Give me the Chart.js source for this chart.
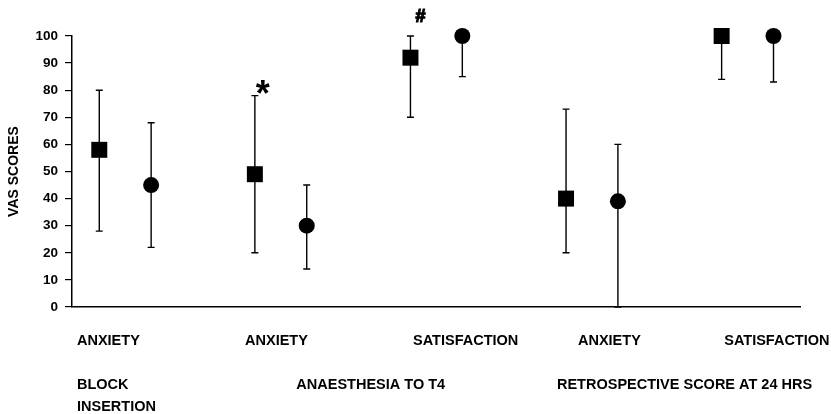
<!DOCTYPE html>
<html>
<head>
<meta charset="utf-8">
<script src="https://cdn.jsdelivr.net/npm/chart.js@4/dist/chart.umd.min.js"></script>
<style>
  html, body { margin: 0; padding: 0; background: #fff; }
</style>
</head>
<body>
<canvas id="chart" width="831" height="414"></canvas>
<script>
// Measures shown under each pair of markers, and the study phase they belong to
const measures = ['ANXIETY', 'ANXIETY', 'SATISFACTION', 'ANXIETY', 'SATISFACTION'];
const measureTickAt = [-0.31, 0.77, 1.85, 2.91, 3.85];
const phases = [['BLOCK', 'INSERTION'], ['ANAESTHESIA TO T4'], ['RETROSPECTIVE SCORE AT 24 HRS']];
const phaseTickAt = [-0.31, 1.10, 2.775];
const yTicks = [0, 10, 20, 30, 40, 50, 60, 70, 80, 90, 100];

// Group drawn with squares
const squareMean = [58, 49, 92, 40, 100];
const squareLow  = [28, 20, 70, 20, 84];
const squareHigh = [80, 78, 100, 73, 100];

// Group drawn with circles
const circleMean = [45, 30, 100, 39, 100];
const circleLow  = [22, 14, 85, 0, 83];
const circleHigh = [68, 45, 100, 60, 100];

// Significance symbols placed above a bar's upper end
const significance = [
  { series: 0, index: 1, text: '*' },
  { series: 0, index: 2, text: '#' }
];

const FONT = "'Liberation Sans', Arial, Helvetica, sans-serif";
const pairOffset = 1 / 6;

const points = (means, shift) => means.map((v, i) => ({ x: i + shift, y: v }));

// Vertical error bars with short caps, drawn beneath the markers
const errorBars = {
  id: 'errorBars',
  beforeDatasetsDraw(chart) {
    const { ctx, scales: { x, y } } = chart;
    ctx.save();
    ctx.strokeStyle = '#000';
    ctx.lineWidth = 1.4;
    chart.data.datasets.forEach(ds => {
      ds.data.forEach((p, i) => {
        const px = x.getPixelForValue(p.x);
        const yLow = y.getPixelForValue(ds.low[i]);
        const yHigh = y.getPixelForValue(ds.high[i]);
        ctx.beginPath();
        ctx.moveTo(px, yLow);
        ctx.lineTo(px, yHigh);
        if (ds.low[i] < p.y) { ctx.moveTo(px - 3.5, yLow); ctx.lineTo(px + 3.5, yLow); }
        if (ds.high[i] > p.y) { ctx.moveTo(px - 3.5, yHigh); ctx.lineTo(px + 3.5, yHigh); }
        ctx.stroke();
      });
    });
    ctx.restore();
  },
  afterDatasetsDraw(chart) {
    const { ctx, scales: { x, y } } = chart;
    ctx.save();
    ctx.fillStyle = '#000';
    ctx.strokeStyle = '#000';
    ctx.textAlign = 'center';
    ctx.textBaseline = 'alphabetic';
    significance.forEach(s => {
      const ds = chart.data.datasets[s.series];
      const p = ds.data[s.index];
      const px = x.getPixelForValue(p.x);
      const yHigh = y.getPixelForValue(ds.high[s.index]);
      if (s.text === '*') {
        ctx.font = 'bold 36px ' + FONT;
        ctx.fillText(s.text, px + 8, yHigh + 10);
      } else {
        ctx.font = 'bold 18px ' + FONT;
        ctx.lineWidth = 1.2;
        ctx.fillText(s.text, px + 10, yHigh - 14);
        ctx.strokeText(s.text, px + 10, yHigh - 14);
      }
    });
    ctx.restore();
  }
};

const labelFont = { family: FONT, size: 14.5, weight: 'bold', lineHeight: 1.2 };

new Chart(document.getElementById('chart'), {
  type: 'scatter',
  data: {
    datasets: [
      {
        data: points(squareMean, -pairOffset),
        low: squareLow,
        high: squareHigh,
        pointStyle: 'rect',
        pointRadius: 11.3,
        pointHoverRadius: 11.3,
        backgroundColor: '#000',
        borderWidth: 0,
        clip: false
      },
      {
        data: points(circleMean, pairOffset),
        low: circleLow,
        high: circleHigh,
        pointStyle: 'circle',
        pointRadius: 8,
        pointHoverRadius: 8,
        backgroundColor: '#000',
        borderWidth: 0,
        clip: false
      }
    ]
  },
  options: {
    responsive: false,
    animation: false,
    devicePixelRatio: 1,
    layout: { padding: { top: 36, right: 31, left: 0, bottom: 0 } },
    plugins: { legend: { display: false }, tooltip: { enabled: false } },
    scales: {
      x: {
        type: 'linear',
        position: 'bottom',
        bounds: 'data',
        min: -0.342,
        max: 4.337,
        afterBuildTicks: s => { s.ticks = measureTickAt.map(v => ({ value: v })); },
        afterFit: s => { s.height = 53; s.paddingLeft = 0; s.paddingRight = 0; },
        ticks: {
          callback: (v, i) => measures[i],
          align: 'start',
          autoSkip: false,
          maxRotation: 0,
          minRotation: 0,
          padding: 25,
          color: '#000',
          font: labelFont
        },
        grid: { drawOnChartArea: false, drawTicks: false },
        border: { display: true, color: '#000', width: 1.5 }
      },
      x2: {
        type: 'linear',
        position: 'bottom',
        bounds: 'data',
        min: -0.342,
        max: 4.337,
        afterBuildTicks: s => { s.ticks = phaseTickAt.map(v => ({ value: v })); },
        afterFit: s => { s.height = 54; s.paddingLeft = 0; s.paddingRight = 0; },
        ticks: {
          callback: (v, i) => phases[i],
          align: 'start',
          autoSkip: false,
          maxRotation: 0,
          minRotation: 0,
          padding: 14,
          color: '#000',
          font: { family: FONT, size: 14.5, weight: 'bold', lineHeight: 22 / 14.5 }
        },
        grid: { display: false, drawOnChartArea: false, drawTicks: false },
        border: { display: false }
      },
      y: {
        type: 'linear',
        min: 0,
        max: 100,
        afterBuildTicks: s => { s.ticks = yTicks.map(v => ({ value: v })); },
        afterFit: s => { s.width = 72; },
        ticks: {
          color: '#000',
          padding: 7,
          font: { family: FONT, size: 13.5, weight: 'bold' }
        },
        grid: { drawOnChartArea: false, tickLength: 7, color: '#000', lineWidth: 1.2 },
        border: { display: true, color: '#000', width: 1.5 },
        title: {
          display: true,
          text: 'VAS SCORES',
          color: '#000',
          padding: { top: 6, bottom: 0 },
          font: { family: FONT, size: 14, weight: 'bold' }
        }
      }
    }
  },
  plugins: [errorBars]
});
</script>
</body>
</html>
